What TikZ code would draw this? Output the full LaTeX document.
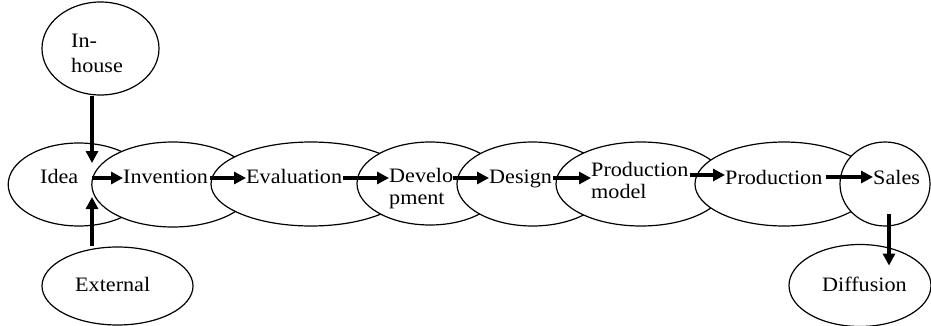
\documentclass[tikz,border=0pt]{standalone}
\usepackage{fontspec}
\setmainfont{Liberation Serif}[FakeStretch=1.08]
\usetikzlibrary{shapes.geometric,arrows.meta}

\tikzset{
  stage/.style={ellipse, draw=black, fill=white, line width=1.2pt, inner sep=0pt},
  lbl/.style={inner sep=0pt, anchor=base west, font=\fontsize{20.5}{22}\selectfont},
  flow/.style={line width=3.2pt, -{Triangle[length=12pt,width=12pt]}},
}
\newcommand{\twolines}[2]{\begin{tabular}[t]{@{}l@{}}#1\\#2\end{tabular}}

\begin{document}
\begin{tikzpicture}[x=1pt, y=-1pt]
\useasboundingbox (0,0) rectangle (931,326);

% source ellipses
\node[stage, minimum width=117pt, minimum height=93pt] (inhouse) at (100.5,48.5) {};
\node[stage, minimum width=151pt, minimum height=78pt] (external) at (117.5,286) {};

% main chain, each stage drawn over the previous one
\node[stage, minimum width=141pt, minimum height=83pt] (idea)  at (78.7,184.5) {};
\node[stage, minimum width=162pt, minimum height=85pt] (inv)   at (172.8,184.5) {};
\node[stage, minimum width=200pt, minimum height=84pt] (eval)  at (311,184) {};
\node[stage, minimum width=146pt, minimum height=83pt] (dev)   at (430,183.5) {};
\node[stage, minimum width=151pt, minimum height=84pt] (des)   at (532.5,184) {};
\node[stage, minimum width=170pt, minimum height=84pt] (pmod)  at (641,184) {};
\node[stage, minimum width=178pt, minimum height=84pt] (prod)  at (784,184) {};
\node[stage, minimum width=90pt,  minimum height=84pt] (sales) at (885,184) {};
\node[stage, minimum width=142pt, minimum height=82pt] (diff)  at (860,285.5) {};

% labels
\node[lbl] (inhouseT) at (71,48) {\begin{tabular}[t]{@{}l@{}}In-\\[3pt]house\end{tabular}};
\node[lbl] (externalT) at (75,291) {External};
\node[lbl] (ideaT) at (40,183) {Idea};
\node[lbl] (invT) at (123,183) {Invention};
\node[lbl] (evalT) at (246,183) {Evaluation};
\node[lbl] (devT) at (389,182) {\twolines{Develo}{pment}};
\node[lbl] (desT) at (489,183) {Design};
\node[lbl] (pmodT) at (591,176) {\twolines{Production}{model}};
\node[lbl] (prodT) at (725,184) {Production};
\node[lbl] (salesT) at (873,184) {Sales};
\node[lbl] (diffT) at (822,291) {Diffusion};

% junction where the two sources meet the chain
\coordinate (row) at (0,178);
\coordinate (junction) at (92,178);

% connectors
\draw[flow, shorten >=15pt] (junction |- inhouse.south) -- (junction);
\draw[flow, shorten >=19pt] (junction |- external.north) -- (junction);
\draw[flow] (junction) -- (invT.west |- row);
\draw[flow, shorten <=2pt] (invT.east |- row) -- (evalT.west |- row);
\draw[flow, shorten <=1pt] (evalT.east |- row) -- (devT.west |- row);
\draw[flow, shorten <=0pt] (devT.east |- row) -- (desT.west |- row);
\draw[flow, shorten <=1pt] (desT.east |- row) -- (pmodT.west |- row);
\draw[flow, shorten <=1pt] (pmodT.east |- 0,175) -- (prodT.west |- 0,175);
\draw[flow, shorten <=3pt] (prodT.east |- 0,177) -- (salesT.west |- 0,177);
\draw[flow] ([xshift=4pt,yshift=13pt]sales.south) -- ([xshift=4pt,yshift=-39pt]sales.south);
\end{tikzpicture}
\end{document}
